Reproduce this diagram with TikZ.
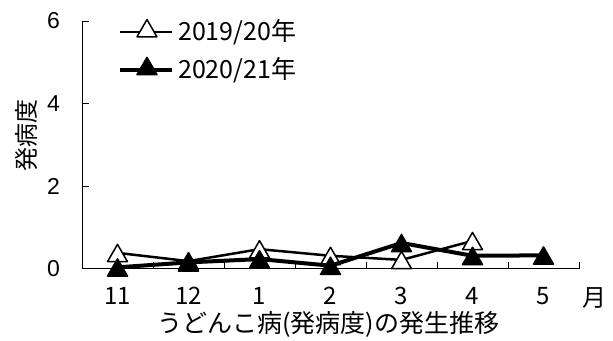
\documentclass[tikz,border=0pt]{standalone}
\usepackage{fontspec}
\setmainfont{Noto Sans CJK JP}
\newfontfamily\numfont{Liberation Sans}
\usetikzlibrary{positioning,shapes.geometric}

\begin{document}
\begin{tikzpicture}[x=1pt,y=1pt,line join=round]
    \tikzstyle{axis}=[draw=black,line width=1pt]
    \tikzstyle{marker}=[regular polygon,regular polygon sides=3,minimum size=23pt,inner sep=0pt,draw=black,line width=1.5pt,yshift=-3pt]
    \tikzstyle{open marker}=[marker,fill=white]
    \tikzstyle{filled marker}=[marker,fill=black]
    \tikzstyle{open line}=[draw=black,line width=2.5pt]
    \tikzstyle{filled line}=[draw=black,line width=4pt]
    \tikzstyle{ylabel}=[inner sep=0pt,font=\numfont\fontsize{23}{23}\selectfont]
    \tikzstyle{xlabel}=[inner sep=0pt,anchor=base,text height=17pt,text depth=0pt,font=\fontsize{24}{24}\selectfont]
    \tikzstyle{legend}=[inner sep=0pt,anchor=west,font=\fontsize{25}{25}\selectfont]
    \tikzstyle{caption}=[inner sep=0pt,anchor=base,text height=20pt,text depth=3pt,font=\fontsize{25}{25}\selectfont]

    \useasboundingbox (0,0) rectangle (613,340);

    % plot area: one month = 71pt, one unit = 41.33pt
    \begin{scope}[shift={(82,71)},x=71pt,y=41.33pt]
    \draw[axis] (0,6) -- (0,0) -- (7,0);
    \foreach \v in {0,2,4,6} {
        \draw[axis] (0,\v) -- ++(7pt,0);
        \node[ylabel,left=22pt] (y\v) at (0,\v) {\v};
    }
    \foreach \k in {1,...,7}
        \draw[axis] (\k,0) -- ++(0,7pt);
    \foreach \m [count=\i from 0] in {11,12,1,2,3,4,5}
        \node[xlabel] (m\m) at ([yshift=-36pt]\i+0.5,0) {\m};
    \node[xlabel] (unit) at ([yshift=-37pt]7.225,0) {月};
    \node[caption] (title) at ([yshift=-63pt]3.47,0) {うどんこ病(発病度)の発生推移};
    \node[ylabel,font=\fontsize{24}{24}\selectfont,rotate=90] (ytitle) at ([xshift=-56pt]0,3.24) {発病度};

    % 2019/20
    \coordinate (a11) at (0.5,0.39);
    \coordinate (a12) at (1.5,0.19);
    \coordinate (a1) at (2.5,0.48);
    \coordinate (a2) at (3.5,0.32);
    \coordinate (a3) at (4.5,0.22);
    \coordinate (a4) at (5.5,0.68);
    \draw[open line] (a11) -- (a12) -- (a1) -- (a2) -- (a3) -- (a4);
    \foreach \p in {a11,a12,a1,a2,a3,a4}
        \node[open marker] at (\p) {};

    % 2020/21
    \coordinate (b11) at (0.5,0.04);
    \coordinate (b12) at (1.5,0.16);
    \coordinate (b1) at (2.5,0.24);
    \coordinate (b2) at (3.5,0.08);
    \coordinate (b3) at (4.5,0.63);
    \coordinate (b4) at (5.5,0.32);
    \coordinate (b5) at (6.5,0.33);
    \draw[filled line] (b11) -- (b12) -- (b1) -- (b2) -- (b3) -- (b4) -- (b5);
    \foreach \p in {b11,b12,b1,b2,b3,b4,b5}
        \node[filled marker] at (\p) {};

    % legend
    \coordinate (la) at (0.535,5.73);
    \coordinate (la') at (1.268,5.73);
    \coordinate (lb) at (0.535,4.815);
    \coordinate (lb') at (1.268,4.815);
    \draw[open line] (la) -- (la');
    \node[open marker] (lamark) at (0.915,5.83) {};
    \node[legend] (latext) at (1.352,5.73) {2019/20年};
    \draw[filled line] (lb) -- (lb');
    \node[filled marker] (lbmark) at (0.915,4.915) {};
    \node[legend] (lbtext) at (1.352,4.815) {2020/21年};
    \end{scope}
\end{tikzpicture}
\end{document}
